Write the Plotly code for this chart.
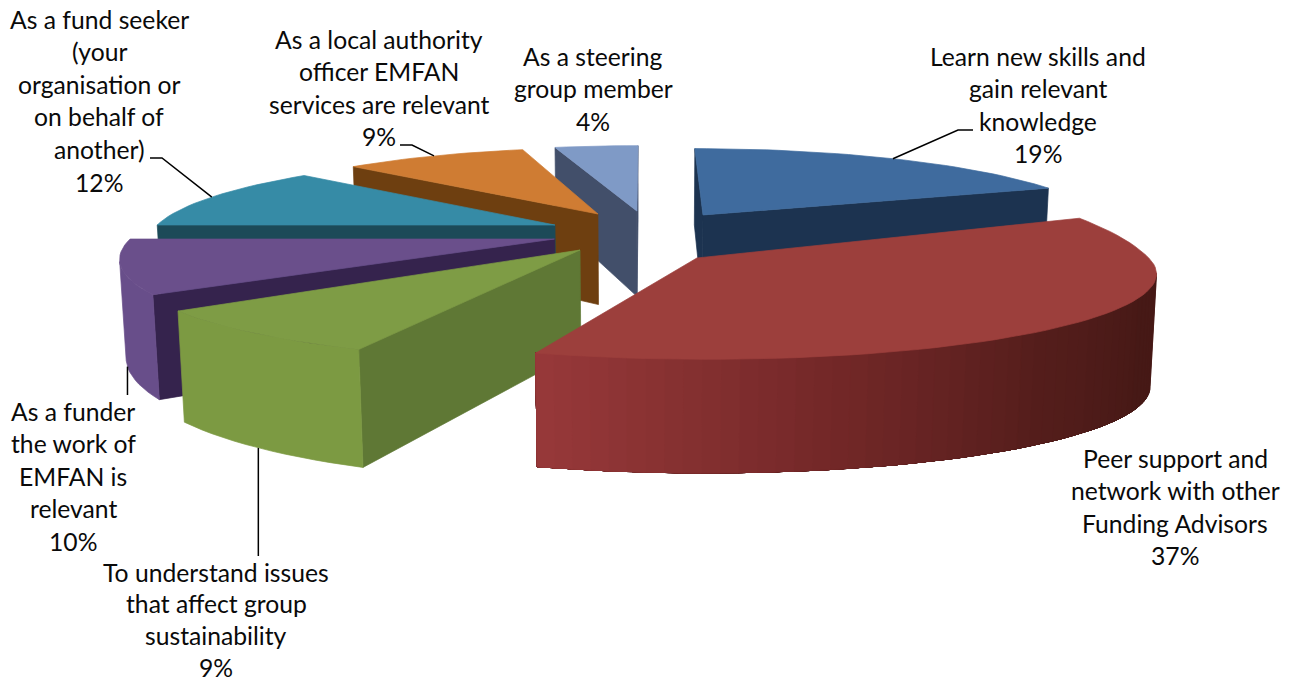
import math
import plotly.graph_objects as go

# Survey shares, clockwise from twelve o'clock
categories = [
    "Learn new skills and gain relevant knowledge",
    "Peer support and network with other Funding Advisors",
    "To understand issues that affect group sustainability",
    "As a funder the work of EMFAN is relevant",
    "As a fund seeker (your organisation or on behalf of another)",
    "As a local authority officer EMFAN services are relevant",
    "As a steering group member",
]
values = [19, 37, 9, 10, 12, 9, 4]

label_lines = [
    ["Learn new skills and", "gain relevant", "knowledge", "19%"],
    ["Peer support and", "network with other", "Funding Advisors", "37%"],
    ["To understand issues", "that affect group", "sustainability", "9%"],
    ["As a funder", "the work of", "EMFAN is", "relevant", "10%"],
    ["As a fund seeker", "(your", "organisation or", "on behalf of", "another)", "12%"],
    ["As a local authority", "officer EMFAN", "services are relevant", "9%"],
    ["As a steering", "group member", "4%"],
]

# Label placement in pixels: centre x, middle y of the first line, line step
label_pos = [(1038, 56, 32.6), (1175, 458, 32.6), (216, 572, 31.8), (73, 411, 32.6),
             (99, 19, 32.6), (379, 39, 32.6), (593, 56, 32.6)]
FONT = dict(family="Lato, Carlito, sans-serif", size=24.7, color="#0a0a0a")

# Face colours per slice
top_colors = ["#3F6B9E", "#9C3F3C", "#7E9C45", "#6A4F8B", "#368BA6", "#CF7C33", "#7F9AC6"]
cut_colors = ["#1C3350", "#6E2A28", "#5F7835", "#35234D", "#1C4A58", "#6E3F10", "#424F6A"]
# Outer wall shading as (sweep fraction, rgb) stops
wall_stops = [
    [(0, (28, 51, 80)), (1, (28, 51, 80))],
    [(0, (70, 25, 22)), (0.35, (70, 25, 22)), (0.55, (85, 30, 28)), (0.75, (115, 40, 40)), (1, (152, 57, 58))],
    [(0, (124, 154, 66)), (1, (124, 154, 66))],
    [(0, (104, 78, 138)), (1, (104, 78, 138))],
    [(0, (30, 80, 95)), (1, (30, 80, 95))],
    [(0, (110, 63, 16)), (1, (110, 63, 16))],
    [(0, (66, 79, 106)), (1, (66, 79, 106))],
]

# Back-to-front paint order
draw_order = [6, 5, 4, 3, 0, 2, 1]

# Per-slice pull-out from the pie centre, and rim shape in the pie plane
pull_x = [0.1415, 0.116, -0.1475, -0.21, -0.215, -0.115, -0.02]
pull_y = [-0.284, 0.226, 0.138, 0.012, -0.157, -0.297, -0.336]
rim_x = [0.97, 1.01, 1.0, 0.985, 0.95, 0.93, 0.95]
rim_front = [1.0, 0.92, 1.015, 1.05, 1.0, 1.0, 1.0]
rim_back = [1.0, 1.25, 1.0, 1.0, 1.0, 1.0, 1.0]
turn_start = [0, -0.4, 1.7, 2, 0, 0, 0]
turn_end = [0, -3, -1, 0, 0, 0, 0]

# Wall drop per slice: pixels, and how strongly it follows the perspective divide
depth_px = [93, 113, 99, 96, 93, 96, 91]
depth_pow = [1, 0.1, 1, 1, 1, 1, 1]

# Camera constants of the perspective view
CX, CY = 645, 238
SCALE_X, SCALE_Y = 430, 85
PERSP = 0.172
DEPTH_SHRINK = 0.012


def project(i, x, y, low=False):
    w = 1 - PERSP * y + (DEPTH_SHRINK if low else 0)
    sy = CY + SCALE_Y * y / w + (depth_px[i] / w ** depth_pow[i] if low else 0)
    return CX + SCALE_X * x / w, sy


def shade(stops, t):
    for (t0, c0), (t1, c1) in zip(stops, stops[1:]):
        if t <= t1:
            f = (t - t0) / (t1 - t0)
            return "rgb(%d,%d,%d)" % tuple(a + (b - a) * f for a, b in zip(c0, c1))
    return "rgb(%d,%d,%d)" % stops[-1][1]


def area(pts):
    return sum(a[0] * b[1] - b[0] * a[1] for a, b in zip(pts, pts[1:] + pts[:1]))


def polygon(pts, color):
    xs, ys = zip(*(pts + pts[:1]))
    return go.Scatter(x=xs, y=ys, mode="lines", fill="toself", fillcolor=color,
                      line=dict(color=color, width=0.7), hoverinfo="skip", showlegend=False)


fig = go.Figure()

total = sum(values)
bounds = []
acc = 0.0
for i, v in enumerate(values):
    bounds.append((acc + turn_start[i], acc + 360.0 * v / total + turn_end[i]))
    acc += 360.0 * v / total


def slice_point(i, deg, low=False):
    a = math.radians(deg)
    c = math.cos(a)
    x = pull_x[i] + rim_x[i] * math.sin(a)
    y = pull_y[i] - (rim_back[i] if c > 0 else rim_front[i]) * c
    return project(i, x, y, low)


def apex(i, low=False):
    return project(i, pull_x[i], pull_y[i], low)


for i in draw_order:
    a0, a1 = bounds[i]
    steps = max(6, int((a1 - a0) / 2))
    angs = [a0 + (a1 - a0) * k / steps for k in range(steps + 1)]

    # radial cut faces, only those turned towards the viewer
    for deg, first_apex in ((a0, True), (a1, False)):
        rim_t, rim_b = slice_point(i, deg), slice_point(i, deg, True)
        if first_apex:
            quad = [apex(i), rim_t, rim_b, apex(i, True)]
        else:
            quad = [rim_t, apex(i), apex(i, True), rim_b]
        if area(quad) < 0:
            fig.add_trace(polygon(quad, cut_colors[i]))

    # outer wall: each band paints from its own angle to the end of the visible
    # run and the next band overpaints it, which leaves no seams between bands
    seen = [k for k in range(steps)
            if area([slice_point(i, angs[k]), slice_point(i, angs[k + 1]),
                     slice_point(i, angs[k + 1], True), slice_point(i, angs[k], True)]) < 0]
    if seen:
        flat = wall_stops[i][0][1] == wall_stops[i][-1][1] and len(wall_stops[i]) == 2
        last = seen[-1] + 1
        for k in seen[:1] if flat else seen:
            run = angs[k:last + 1]
            outline = [slice_point(i, d) for d in run] + [slice_point(i, d, True) for d in reversed(run)]
            fig.add_trace(polygon(outline, shade(wall_stops[i], (k + 0.5) / steps)))

    # top face
    top = [apex(i)] + [slice_point(i, d) for d in angs]
    fig.add_trace(polygon(top, top_colors[i]))

# Leader lines run from the slice's mid-sweep on the rim out to an elbow near the label;
# a None x keeps the segment vertical
leaders = [
    (0, False, [(958, 130), (973, 130)]),
    (3, True, [(None, 395)]),
    (2, True, [(None, 556)]),
    (4, False, [(162, 158), (150, 158)]),
    (5, False, [(412, 145), (400, 145)]),
]
for i, low, elbow in leaders:
    start = slice_point(i, sum(bounds[i]) / 2, low)
    pts = [start] + [(start[0] if x is None else x, y) for x, y in elbow]
    fig.add_trace(go.Scatter(x=[p[0] for p in pts], y=[p[1] for p in pts], mode="lines",
                             line=dict(color="#000000", width=1.5), hoverinfo="skip", showlegend=False))

for lines, (cx, y0, step) in zip(label_lines, label_pos):
    for n, text in enumerate(lines):
        fig.add_annotation(x=cx, y=y0 + n * step, text=text, showarrow=False,
                           xanchor="center", yanchor="middle", font=FONT)

fig.update_layout(
    width=1297, height=682, margin=dict(l=0, r=0, t=0, b=0),
    paper_bgcolor="white", plot_bgcolor="white", showlegend=False,
    xaxis=dict(range=[0, 1297], visible=False, fixedrange=True),
    yaxis=dict(range=[682, 0], visible=False, fixedrange=True),
)
fig.write_html("out.html")
